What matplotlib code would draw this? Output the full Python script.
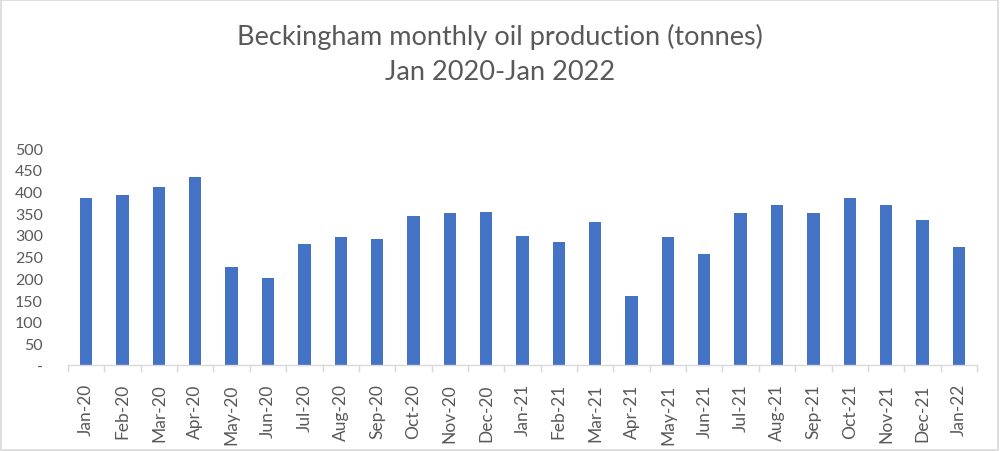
import matplotlib
matplotlib.use("Agg")
import matplotlib.pyplot as plt
from matplotlib.patches import Rectangle

months = ["Jan-20", "Feb-20", "Mar-20", "Apr-20", "May-20", "Jun-20", "Jul-20",
          "Aug-20", "Sep-20", "Oct-20", "Nov-20", "Dec-20", "Jan-21", "Feb-21",
          "Mar-21", "Apr-21", "May-21", "Jun-21", "Jul-21", "Aug-21", "Sep-21",
          "Oct-21", "Nov-21", "Dec-21", "Jan-22"]
production = [384, 393, 411, 434, 226, 201, 279, 295, 290, 343, 350, 354, 297,
              283, 329, 160, 295, 256, 350, 370, 350, 386, 370, 334, 272]
y_ticks = [0, 50, 100, 150, 200, 250, 300, 350, 400, 450, 500]
y_tick_labels = ["-", "50", "100", "150", "200", "250", "300", "350", "400", "450", "500"]

plt.rcParams['font.family'] = ['Lato', 'DejaVu Sans']
text_color = "#595959"
bar_color = "#4472C4"
grid_gray = "#D9D9D9"

fig = plt.figure(figsize=(10, 4.52), dpi=100)
fig.patches.append(Rectangle((0.001, 0.002), 0.997, 0.995, transform=fig.transFigure,
                             fill=False, edgecolor=grid_gray, linewidth=1.2))
ax = fig.add_axes([0.068, 0.190, 0.909, 0.480])

x = list(range(len(months)))
ax.bar(x, production, width=0.34, color=bar_color, zorder=2)

ax.set_xlim(-0.5, len(months) - 0.5)
ax.set_ylim(0, 500)
ax.set_yticks(y_ticks)
ax.set_yticklabels(y_tick_labels, fontsize=11.5, color=text_color)
ax.tick_params(axis='y', length=0, pad=18)
for lbl in ax.get_yticklabels():
    lbl.set_horizontalalignment('right')

ax.set_xticks(x)
ax.set_xticklabels(months, rotation=90, fontsize=12.5, color=text_color)
ax.set_xticks([i - 0.5 for i in range(len(months) + 1)], minor=True)
ax.tick_params(axis='x', which='major', length=0, pad=13)
ax.tick_params(axis='x', which='minor', length=5, color=grid_gray, width=1)

for side in ['top', 'right', 'left']:
    ax.spines[side].set_visible(False)
ax.spines['bottom'].set_color(grid_gray)
ax.spines['bottom'].set_linewidth(1)

fig.text(0.5, 0.918, "Beckingham monthly oil production (tonnes)", ha='center', va='center',
         fontsize=19.5, color=text_color)
fig.text(0.5, 0.840, "Jan 2020-Jan 2022", ha='center', va='center',
         fontsize=19.5, color=text_color)

fig.savefig("out.png", dpi=100)
